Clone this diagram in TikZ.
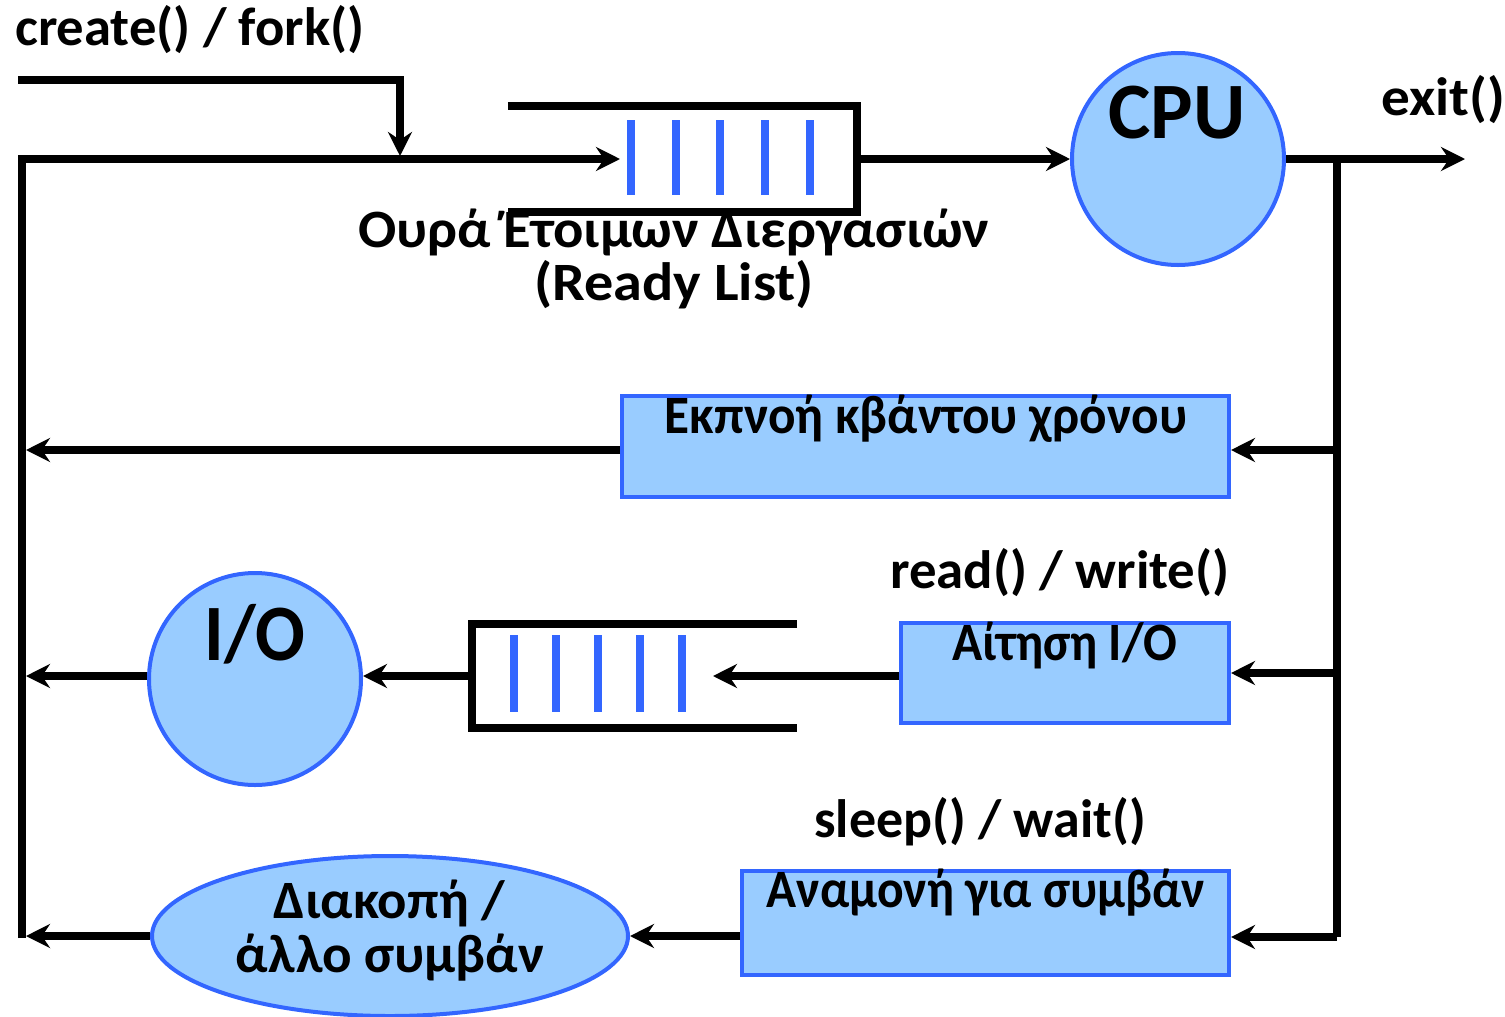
\documentclass[tikz,border=0pt]{standalone}
\usepackage{fontspec}
\setmainfont{Carlito}
\usetikzlibrary{arrows.meta,shapes.geometric,calc}
\definecolor{boxfill}{HTML}{99CCFF}
\definecolor{boxline}{HTML}{3366FF}
\newcommand{\sx}[2]{\scalebox{#1}[1]{#2}}
\begin{document}
\begin{tikzpicture}[x=1bp,y=-1bp,
  conn/.style={line width=8bp,black},
  arr/.style={conn,-{Stealth[length=24bp,width=24bp,inset=8bp]}},
  blueshape/.style={fill=boxfill,draw=boxline,line width=4bp,inner sep=0pt},
  lbl/.style={font=\fontsize{54bp}{60bp}\selectfont\bfseries,inner sep=0pt,anchor=base},
  big/.style={font=\fontsize{80bp}{88bp}\selectfont\bfseries,inner sep=0pt,anchor=base},
  bar/.style={draw=boxline,line width=8bp},
]
\useasboundingbox (0,0) rectangle (1505,1016);

% shapes
\node[blueshape,circle,minimum size=212bp] (cpu) at (1178,159) {};
\node[blueshape,circle,minimum size=212bp] (io) at (255,679) {};
\node[blueshape,ellipse,minimum width=476bp,minimum height=160bp] (ev) at (390,936) {};
\node[blueshape,rectangle,minimum width=607bp,minimum height=101bp] (tq) at (925.5,446.5) {};
\node[blueshape,rectangle,minimum width=328bp,minimum height=100bp] (req) at (1065,673) {};
\node[blueshape,rectangle,minimum width=487bp,minimum height=104bp] (wt) at (985.5,923) {};

% queues
\node[inner sep=0pt,minimum width=349bp,minimum height=105bp] (rq) at (682.5,159) {};
\draw[conn] (rq.north west) -- (rq.north east) -- (rq.south east) -- (rq.south west);
\foreach \x in {631,676,720,765,810} \draw[bar] (\x,120) -- (\x,195);
\node[inner sep=0pt,minimum width=325bp,minimum height=104bp] (ioq) at (634.5,676) {};
\draw[conn] (ioq.north east) -- (ioq.north west) -- (ioq.south west) -- (ioq.south east);
\foreach \x in {514,556,598,640,682} \draw[bar] (\x,635) -- (\x,712);

% coordinates
\coordinate (cin) at (18,80);
\coordinate (cjoin) at (400,156);
\coordinate (lt) at (22,159);
\coordinate (lb) at (22,938);
\coordinate (rqin) at (620,159);
\coordinate (exitpt) at (1465,159);
\coordinate (rt) at (1337,159);
\coordinate (rb) at (1337,937);
\coordinate (l1) at (26,450);
\coordinate (l2) at (26,676);
\coordinate (l3) at (26,936);
\coordinate (ioqin) at (713,676);

% connectors
\draw[arr] (cin) -| (cjoin);
\draw[arr] (lb) -- (lt) -- (rqin);
\draw[arr] (rq.east) -- (cpu.west);
\draw[arr] (cpu.east) -- (exitpt);
\draw[conn] (rt) -- (rb);
\draw[arr] (rt |- 0,450) -- (tq.east |- 0,450);
\draw[arr] (tq.west |- 0,450) -- (l1);
\draw[arr] (rt |- 0,673) -- (req.east);
\draw[arr] (req.west |- 0,676) -- (ioqin);
\draw[arr] (ioq.west) -- (io.east |- ioq.west);
\draw[arr] (io.west |- l2) -- (l2);
\draw[arr] (rb) -- (wt.east |- rb);
\draw[arr] (wt.west |- ev.east) -- (ev.east);
\draw[arr] (ev.west) -- (l3);

% labels
\node[lbl,anchor=base west] (tcreate) at (15,45) {\sx{1.012}{create() / fork()}};
\node[lbl] (trq1) at (674,247) {\sx{1.048}{Ουρά Έτοιμων Διεργασιών}};
\node[lbl] (trq2) at (674,300) {\sx{1.078}{(Ready List)}};
\node[big] (tcpu) at (1177,138) {CPU};
\node[lbl,anchor=base west] (texit) at (1381,115) {\sx{1.06}{exit()}};
\node[lbl] (ttq) at (926,433) {\sx{0.949}{Εκπνοή κβάντου χρόνου}};
\node[lbl] (trw) at (1060,588) {\sx{1.015}{read() / write()}};
\node[lbl] (treq) at (1065,660) {\sx{0.925}{Αίτηση I/O}};
\node[big] (tio) at (255,660) {\sx{0.92}{I/O}};
\node[lbl] (tsw) at (980,837) {sleep() / wait()};
\node[lbl] (twt) at (986,907) {\sx{0.918}{Αναμονή για συμβάν}};
\node[lbl] (tev1) at (389,918) {\sx{1.013}{Διακοπή /}};
\node[lbl] (tev2) at (390,972) {\sx{1.02}{άλλο συμβάν}};
\end{tikzpicture}
\end{document}
